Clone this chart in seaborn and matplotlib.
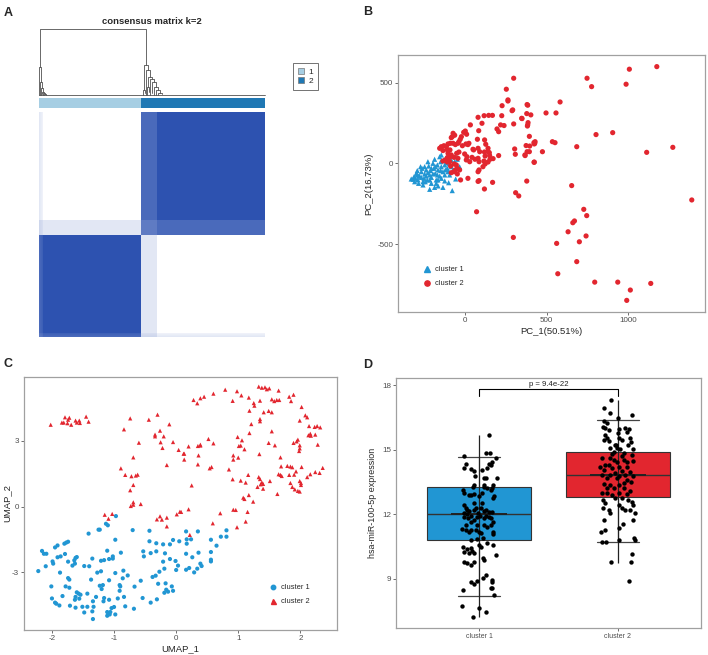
import numpy as np
import pandas as pd
import matplotlib
matplotlib.use("Agg")
import matplotlib.pyplot as plt
import seaborn as sns
from matplotlib.colors import LinearSegmentedColormap, ListedColormap
from matplotlib.lines import Line2D

# ---------------- data ----------------
# Panel A: consensus clustering (per-sample probability of belonging to cluster 2)
cluster1_p2 = [0.14, 0.12, 0.10, 0.08] + [0.0] * 98
cluster2_p2 = [0.86] * 16 + [1.0] * 108
cluster_labels = ["1", "2"]
# dendrogram links (icoord in leaf units, dcoord in heights)
dendro_icoord = [
    [1.3, 1.3, 107, 107],
    [0.3, 0.3, 2.3, 2.3], [1.3, 1.3, 3.3, 3.3], [2.3, 2.3, 4.3, 4.3],
    [3.3, 3.3, 5.3, 5.3], [4.3, 4.3, 6.3, 6.3], [5.3, 5.3, 7.3, 7.3],
    [105, 105, 109, 109], [107, 107, 111, 111], [109, 109, 113, 113],
    [111, 111, 115, 115], [113, 113, 117, 117], [115, 115, 119, 119],
    [117, 117, 121, 121], [119, 119, 123, 123], [104, 104, 106, 106],
    [108, 108, 110, 110], [0, 0, 226, 226],
]
dendro_dcoord = [
    [0.43, 1.0, 1.0, 0.45],
    [0.0, 0.43, 0.43, 0.20], [0.0, 0.20, 0.20, 0.10], [0.0, 0.10, 0.10, 0.05],
    [0.02, 0.05, 0.05, 0.03], [0.0, 0.03, 0.03, 0.015], [0.0, 0.015, 0.015, 0.005],
    [0.08, 0.45, 0.45, 0.38], [0.0, 0.38, 0.38, 0.28], [0.12, 0.28, 0.28, 0.24],
    [0.0, 0.24, 0.24, 0.19], [0.035, 0.19, 0.19, 0.12], [0.0, 0.12, 0.12, 0.08],
    [0.0, 0.08, 0.08, 0.035], [0.0, 0.035, 0.035, 0.01], [0.0, 0.08, 0.08, 0.03],
    [0.0, 0.12, 0.12, 0.04], [0.0, 0.0, 0.0, 0.0],
]

# Panel B: PCA
pca_cluster1 = [(-329,-97),(-312,-83),(-298,-62),(-288,-103),(-278,-79),(-267,-52),(-263,-31),(-251,-93),
    (-247,-66),(-237,-41),(-231,-103),(-222,-17),(-216,-72),(-210,-45),(-206,-87),(-196,0),(-190,-31),
    (-182,-62),(-176,-103),(-169,-10),(-165,-41),(-155,-79),(-149,10),(-145,-21),(-135,-52),(-129,21),
    (-124,-10),(-114,37),(-108,-31),(-98,0),(-84,21),(-63,10),(-47,25),(14,29),(-284,-124),(-257,-134),
    (-216,-161),(-186,-149),(-165,-140),(-135,-149),(-124,-109),(-78,-169),(-206,-124),(-308,-114),
    (-318,-99),(-292,-45),(-272,-21),(-227,10),(-186,25),(-155,41),(-145,52),(-165,-103),(-94,-72),
    (-73,-41),(-33,-21),(-284,-79),(-243,-114),(-176,-124),(-124,-72),(-104,-52),(-196,-66),(-257,-114),
    (-304,-93),(-267,-87),(-237,-79),(-227,-58),(-206,-31),(-182,-21),(-169,-72),(-149,-45),(-145,-93),
    (-120,-41),(-84,-21),(-114,4),(-216,-103),(-247,-21),(-292,-72),(-57,41),(-57,-97),(-100,-120)]
pca_cluster2 = [(263,386),(227,357),(384,360),(403,300),(80,285),(117,295),(145,297),(168,297),(225,295),
    (292,331),(349,277),(384,238),(298,244),(218,238),(239,234),(196,213),(206,196),(33,238),(104,248),
    (84,202),(2,200),(10,180),(-8,192),(-73,186),(-63,174),(-78,165),(-84,159),(-22,165),(-29,149),
    (-37,134),(76,149),(120,145),(127,118),(141,93),(141,72),(149,66),(151,48),(123,45),(119,70),(80,93),
    (90,72),(53,83),(49,87),(18,116),(24,124),(6,120),(-16,109),(-43,124),(-59,116),(-73,124),(-90,124),
    (-104,120),(-114,103),(-129,109),(-145,103),(-155,93),(-135,79),(-108,83),(-92,83),(-104,62),(-84,52),
    (-51,62),(-37,70),(-43,31),(-67,37),(-94,37),(-108,35),(-120,21),(-135,14),(-108,8),(-94,10),(-88,-17),
    (-67,-4),(-53,-10),(-47,-31),(-59,-41),(-67,-52),(-33,-41),(-84,-58),(-47,-66),(-27,-103),(18,-93),
    (80,-52),(86,-41),(86,10),(80,31),(61,25),(43,37),(29,10),(8,21),(12,41),(-2,58),(116,14),(110,-21),
    (123,-4),(141,8),(153,25),(172,29),(206,48),(304,89),(308,56),(368,48),(380,72),(394,72),(427,124),
    (429,134),(423,6),(378,-110),(169,-118),(119,-159),(86,-107),(80,-112),(310,-182),(329,-202),
    (298,527),(253,459),(263,393),(288,326),(380,364),(378,308),(347,279),(386,252),(382,231),(394,167),
    (374,110),(396,107),(422,128),(424,120),(367,52),(424,8),(474,72),(496,312),(557,312),(582,380),
    (535,134),(551,128),(684,103),(653,-138),(747,527),(775,475),(802,178),(904,190),(986,490),(1006,583),
    (1174,599),(1112,68),(1272,99),(1388,-227),(296,-459),(71,-300),(561,-496),(568,-684),(631,-424),
    (660,-368),(670,-357),(727,-285),(745,-324),(700,-486),(741,-450),(684,-609),(794,-736),(935,-736),
    (990,-849),(1012,-785),(1137,-744)]

# Panel C: UMAP
umap_cluster1 = [(-0.97,-0.43),(-1.13,-0.78),(-1.10,-0.85),(-1.25,-1.05),(-1.23,-1.05),(-1.41,-1.23),
    (-0.70,-1.07),(-0.43,-1.10),(-0.98,-1.51),(-1.77,-1.64),(-1.74,-1.60),(-1.80,-1.69),(-1.91,-1.77),
    (-1.95,-1.86),(-2.16,-2.02),(-2.13,-2.15),(-2.09,-2.15),(-1.79,-2.16),(-1.91,-2.31),(-1.86,-2.27),
    (-1.99,-2.50),(-1.98,-2.60),(-2.10,-2.72),(-2.22,-2.94),(-1.74,-2.51),(-1.64,-2.45),(-1.62,-2.34),
    (-1.60,-2.30),(-1.67,-2.69),(-1.63,-2.60),(-1.48,-2.71),(-1.40,-2.72),(-1.35,-2.37),(-1.21,-2.47),
    (-1.16,-2.44),(-1.08,-2.39),(-1.02,-2.37),(-1.02,-2.27),(-1.11,-2.01),(-0.89,-2.10),(-1.27,-3.01),
    (-1.21,-2.95),(-0.98,-3.03),(-0.85,-2.92),(-0.78,-3.14),(-0.86,-3.27),(-1.08,-3.36),(-1.37,-3.33),
    (-1.74,-3.26),(-1.72,-3.33),(-1.87,-3.01),(-2.01,-3.64),(-1.78,-3.64),(-1.72,-3.70),(-1.60,-3.91),
    (-1.57,-3.97),(-1.54,-4.02),(-1.43,-3.97),(-1.62,-4.12),(-1.56,-4.20),(-1.63,-4.25),(-1.23,-3.61),
    (-1.20,-3.76),(-1.18,-3.58),(-0.91,-3.58),(-0.90,-3.64),(-0.91,-3.84),(-0.84,-4.12),(-0.94,-4.19),
    (-1.08,-4.25),(-1.16,-4.17),(-1.17,-4.32),(-1.29,-4.12),(-1.34,-4.32),(-1.33,-4.57),(-1.43,-4.57),
    (-1.51,-4.57),(-1.62,-4.61),(-1.71,-4.52),(-1.83,-4.08),(-2.00,-4.19),(-1.95,-4.38),(-1.93,-4.43),
    (-1.88,-4.51),(-1.48,-4.83),(-1.35,-4.78),(-1.34,-5.13),(-1.11,-4.81),(-1.06,-4.81),(-1.07,-4.92),
    (-1.11,-4.98),(-1.04,-4.63),(-1.00,-4.58),(-0.98,-4.92),(-0.82,-4.55),(-0.68,-4.66),(-0.54,-4.17),
    (-0.41,-4.38),(-0.31,-4.23),(-0.19,-3.93),(-0.16,-3.79),(-0.07,-3.64),(-0.05,-3.84),(-0.13,-3.88),
    (-0.29,-3.52),(-0.17,-3.50),(-0.57,-3.38),(-0.67,-3.65),(-0.38,-3.21),(-0.33,-3.15),(-0.27,-2.97),
    (-0.21,-2.51),(-0.19,-2.83),(-0.10,-2.39),(-0.01,-2.48),(0.00,-2.89),(0.03,-2.69),(-0.05,-1.52),
    (-0.10,-1.72),(-0.21,-1.72),(-0.32,-1.67),(-0.43,-1.58),(-0.53,-2.04),(-0.52,-2.27),(-0.41,-2.12),
    (-0.32,-2.04),(-0.18,-2.13),(0.05,-1.58),(0.16,-1.13),(0.17,-1.69),(0.17,-1.49),(0.24,-1.49),
    (0.35,-1.13),(0.16,-2.15),(0.26,-2.31),(0.36,-2.10),(0.16,-2.88),(0.21,-2.80),(0.29,-3.00),
    (0.34,-2.83),(0.39,-2.60),(0.41,-2.71),(0.56,-1.51),(0.56,-2.07),(0.56,-2.42),(0.56,-2.50),
    (0.65,-1.78),(0.72,-1.37),(0.81,-1.08),(0.81,-1.37)]
umap_cluster2 = [(-2.02,3.74),(-1.84,3.84),(-1.81,3.84),(-1.79,4.08),(-1.74,3.97),(-1.72,4.06),(-1.75,3.81),
    (-1.69,3.74),(-1.62,3.93),(-1.60,3.84),(-1.56,3.93),(-1.55,3.82),(-1.45,4.11),(-1.41,3.88),(-0.74,4.03),
    (-0.84,3.53),(-0.44,3.97),(-0.30,4.20),(-0.11,3.76),(-0.26,3.47),(-0.34,3.29),(-0.34,3.21),(-0.20,3.21),
    (-0.25,2.94),(-0.22,2.68),(-0.05,2.95),(0.04,2.59),(0.12,2.42),(-0.60,2.92),(-0.69,2.25),(-0.15,1.90),
    (-0.89,1.75),(-0.82,1.45),(-0.72,1.39),(-0.65,1.42),(-0.62,1.46),(-0.69,0.99),(-0.74,0.75),(-0.57,0.12),
    (-0.73,0.03),(-0.69,0.09),(-0.69,0.20),(-1.15,-0.37),(-1.09,-0.55),(-1.03,-0.33),(-0.31,-0.58),
    (-0.26,-0.44),(-0.23,-0.59),(-0.15,-0.50),(-0.15,-0.90),(0.01,-0.35),(0.08,-0.24),(0.28,4.87),(0.34,4.72),
    (0.39,4.95),(0.45,5.02),(0.60,5.16),(0.79,5.34),(0.98,5.27),(0.91,4.83),(1.05,5.08),(1.17,4.98),
    (1.25,4.73),(1.26,4.61),(1.18,4.38),(1.35,4.84),(1.41,4.31),(1.49,4.37),(1.54,4.31),(1.33,5.48),
    (1.38,5.43),(1.43,5.45),(1.46,5.36),(1.50,5.40),(1.65,5.30),(1.54,4.90),(1.58,4.82),(1.62,4.87),
    (1.66,4.87),(1.82,5.02),(1.89,5.11),(1.85,4.82),(2.02,4.55),(2.08,4.17),(2.11,4.08),(1.99,3.93),
    (2.14,3.68),(2.23,3.64),(2.27,3.68),(2.32,3.62),(2.16,3.33),(2.13,3.26),(2.17,3.24),(2.24,3.29),
    (2.28,2.83),(1.96,3.06),(1.94,2.98),(1.99,2.80),(1.99,2.66),(1.98,2.54),(1.89,2.91),(1.35,4.00),
    (1.35,3.90),(1.21,3.77),(1.18,3.36),(1.54,3.44),(1.49,2.91),(1.59,2.80),(1.34,2.40),(1.68,2.25),
    (1.10,2.62),(1.06,3.03),(0.99,3.18),(1.01,2.77),(1.04,2.79),(0.92,2.34),(0.92,2.15),(1.00,2.24),
    (0.85,1.70),(1.16,1.45),(0.91,1.25),(1.04,1.19),(1.12,1.10),(1.33,1.35),(1.35,1.26),(1.38,1.11),
    (1.40,1.04),(1.36,1.02),(1.31,0.90),(1.40,0.82),(1.51,1.17),(1.63,0.58),(1.17,0.53),(1.08,0.41),
    (1.10,0.35),(1.24,0.23),(1.69,1.84),(1.65,1.48),(1.68,1.45),(1.70,1.40),(1.79,1.86),(1.84,1.83),
    (1.87,1.80),(1.90,1.46),(1.93,1.61),(1.82,1.45),(2.02,1.81),(1.84,1.08),(1.87,0.90),(1.91,0.79),
    (1.96,0.72),(1.99,1.17),(2.01,1.08),(2.01,0.99),(1.99,0.69),(2.11,1.35),(2.16,1.48),(2.24,1.58),
    (2.31,1.54),(2.36,1.77),(0.20,2.75),(0.35,2.77),(0.39,2.79),(0.39,2.83),(0.52,3.09),(0.60,2.89),
    (0.36,2.34),(0.13,2.42),(0.13,2.15),(0.35,1.93),(0.54,1.75),(0.57,1.81),(0.25,0.97),(0.92,-0.14),
    (0.96,-0.15),(0.71,-0.30),(1.15,-0.24),(0.59,-0.76),(0.98,-0.94),(1.12,-0.68),(0.20,-0.12),
    (0.06,-0.23),(0.22,-1.29)]

# Panel D: expression (jitter offset, value)
expr_cluster1 = [(0.074,15.69),(0.048,14.86),(0.079,14.86),(-0.110,14.71),(0.118,14.63),(0.094,14.41),
    (0.070,14.32),(0.082,14.26),(0.058,14.13),(-0.098,14.32),(-0.106,14.16),(-0.058,14.10),(-0.034,14.01),
    (-0.031,13.79),(0.022,14.06),(0.034,13.70),(0.046,13.67),(0.125,13.67),(-0.038,13.36),(-0.043,13.28),
    (0.038,13.36),(0.101,13.36),(0.094,13.23),(-0.118,13.11),(-0.106,12.97),(-0.074,12.89),(-0.058,12.89),
    (-0.034,12.95),(-0.002,12.86),(0.022,13.00),(0.034,13.26),(0.058,13.20),(0.082,13.11),(0.106,12.86),
    (0.101,12.74),(-0.110,12.43),(-0.094,12.27),(-0.086,12.19),(-0.106,12.04),(-0.074,12.12),(-0.038,12.18),
    (-0.026,12.27),(0.010,12.27),(0.034,12.15),(0.050,12.19),(0.070,12.08),(0.089,12.11),(-0.034,12.50),
    (0.022,12.50),(-0.110,11.88),(-0.079,11.80),(-0.062,11.65),(-0.038,11.73),(-0.010,12.04),(0.034,11.80),
    (0.082,11.80),(0.098,11.65),(-0.122,11.31),(-0.098,11.26),(-0.074,11.18),(-0.062,11.26),(-0.026,11.26),
    (-0.002,11.18),(0.010,11.11),(0.034,11.49),(0.082,11.49),(0.101,11.15),(0.101,11.06),(-0.062,10.80),
    (-0.014,10.84),(0.029,10.87),(0.058,10.64),(-0.115,10.48),(-0.086,10.38),(-0.062,10.41),(-0.050,10.28),
    (-0.038,10.17),(-0.110,10.25),(-0.074,10.17),(-0.002,10.56),(0.010,10.48),(0.101,10.56),(0.120,10.10),
    (0.029,9.94),(0.034,9.86),(-0.110,9.79),(-0.086,9.71),(-0.062,9.63),(-0.038,9.79),(0.024,9.01),
    (0.050,9.16),(-0.062,8.85),(-0.038,8.73),(-0.014,8.89),(0.089,8.93),(0.094,8.85),(0.082,8.57),
    (0.094,8.54),(-0.118,8.47),(0.106,8.23),(-0.125,7.72),(-0.002,7.64),(0.050,7.46),(-0.046,7.21),
    (-0.086,12.00),(-0.062,11.93),(-0.019,11.88),(0.005,11.93),(0.046,11.93),(0.070,11.87),(-0.098,11.49),
    (-0.014,11.49),(0.058,11.42)]
expr_cluster2 = [(-0.048,17.30),(-0.103,16.93),(-0.060,16.70),(0.103,16.59),(-0.002,16.46),(-0.103,16.31),
    (-0.079,16.23),(-0.108,16.07),(-0.091,16.00),(-0.067,15.92),(0.005,15.97),(0.053,16.00),(0.082,15.97),
    (0.065,15.84),(0.000,15.76),(-0.091,15.69),(-0.079,15.53),(-0.103,15.45),(-0.062,15.38),(0.012,15.53),
    (0.029,15.45),(0.089,15.53),(0.094,15.34),(0.077,15.22),(-0.019,15.22),(-0.007,15.07),(0.017,15.03),
    (-0.055,15.07),(0.113,15.03),(-0.031,14.91),(0.041,14.83),(0.101,14.75),(-0.055,14.60),(-0.115,14.60),
    (-0.031,14.52),(-0.007,14.44),(0.041,14.52),(0.065,14.44),(0.113,14.48),(-0.091,14.29),(-0.127,14.21),
    (-0.067,14.26),(0.005,14.21),(0.065,14.21),(-0.043,14.13),(-0.103,14.06),(0.029,14.01),(0.089,13.98),
    (-0.115,13.82),(-0.055,13.82),(-0.019,13.90),(0.053,13.82),(0.113,13.75),(-0.079,13.67),(-0.007,13.67),
    (0.065,13.59),(-0.103,13.39),(-0.055,13.36),(0.005,13.36),(0.041,13.43),(0.094,13.51),(-0.115,12.97),
    (-0.079,12.97),(-0.043,12.89),(0.005,12.97),(0.065,12.92),(0.077,12.66),(0.101,12.58),(0.113,12.43),
    (-0.108,12.66),(-0.091,12.50),(-0.110,12.27),(-0.067,12.19),(-0.055,12.04),(0.005,12.43),(0.029,12.27),
    (0.053,12.19),(0.089,12.19),(0.125,12.04),(-0.103,11.73),(0.036,11.52),(0.108,11.73),(0.010,11.37),
    (-0.120,11.18),(-0.091,11.26),(-0.113,10.72),(-0.084,10.72),(0.005,10.81),(0.118,10.90),(0.125,10.80),
    (0.101,10.13),(-0.046,9.79),(0.094,9.75),(0.079,8.89),(-0.012,15.22),(-0.043,14.79),(0.029,14.68),
    (0.012,13.75),(-0.031,13.20),(-0.079,13.20),(0.041,13.20),(0.089,13.05),(-0.019,12.74),(0.029,12.74)]
groups = ["cluster 1", "cluster 2"]
box_q1 = [10.80, 12.80]
box_med = [12.00, 13.82]
box_q3 = [13.24, 14.87]
whisker_lo = [8.19, 10.70]
whisker_hi = [14.65, 16.37]
range_lo = [7.21, 9.74]
range_hi = [15.67, 17.30]
p_text = "p = 9.4e-22"

# ---------------- style ----------------
sns.set_style("white")
plt.rcParams["font.family"] = ["Liberation Sans", "DejaVu Sans"]
plt.rcParams["axes.unicode_minus"] = False
BLUE = "#2196D3"
RED = "#E2262F"
SPINE = "#A0A0A0"
TICKC = "#4D4D4D"

W, H = 708, 655
fig = plt.figure(figsize=(W / 100, H / 100), dpi=100)
fig.patch.set_facecolor("white")


def axes_px(l, t, r, b):
    return fig.add_axes([l / W, 1 - b / H, (r - l) / W, (b - t) / H])


def style_axes(ax):
    for s in ax.spines.values():
        s.set_visible(True)
        s.set_color(SPINE)
        s.set_linewidth(0.9)
    ax.tick_params(bottom=True, left=True, length=2, width=0.6, color="#555555",
                   labelsize=5.8, labelcolor=TICKC, pad=1.5)
    ax.grid(False)


# ---------------- Panel A ----------------
p2 = np.array(cluster1_p2 + cluster2_p2)
consensus = np.outer(p2, p2) + np.outer(1 - p2, 1 - p2)
labels = np.array([0] * len(cluster1_p2) + [1] * len(cluster2_p2))

axM = axes_px(39, 112, 265, 337)
cmap = LinearSegmentedColormap.from_list("cons", ["#FFFFFF", "#2D52B0"])
sns.heatmap(consensus[::-1], ax=axM, cmap=cmap, vmin=0, vmax=1, cbar=False,
            xticklabels=False, yticklabels=False, rasterized=True)

axBar = axes_px(39, 98, 265, 108)
sns.heatmap(labels[np.newaxis, :], ax=axBar, cmap=ListedColormap(["#A6CEE3", "#1F78B4"]),
            vmin=0, vmax=1, cbar=False, xticklabels=False, yticklabels=False)

axDen = axes_px(39, 29, 265, 95)
for xs, ys in zip(dendro_icoord, dendro_dcoord):
    axDen.plot(xs, ys, color="#505050", lw=0.6, clip_on=False)
axDen.set_xlim(0, len(p2))
axDen.set_ylim(0, 1)
axDen.axis("off")

fig.text(152 / W, 1 - 22 / H, "consensus matrix k=2", ha="center", va="center",
         fontsize=6.8, fontweight="bold")
legA = fig.legend(
    handles=[Line2D([], [], marker="s", ls="", markerfacecolor="#A6CEE3", markeredgecolor="#777777",
                    markeredgewidth=0.5, markersize=4.5),
             Line2D([], [], marker="s", ls="", markerfacecolor="#1F78B4", markeredgecolor="#777777",
                    markeredgewidth=0.5, markersize=4.5)],
    labels=cluster_labels, loc="center", bbox_to_anchor=(305.5 / W, 1 - 76.5 / H),
    frameon=True, fancybox=False, fontsize=6, handlelength=0.8, handletextpad=0.5,
    labelspacing=0.15, borderpad=0.6)
legA.get_frame().set_edgecolor("#333333")
legA.get_frame().set_linewidth(0.6)

# ---------------- Panel B ----------------
dfB = pd.DataFrame(pca_cluster1 + pca_cluster2, columns=["PC1", "PC2"])
dfB["cluster"] = ["cluster 1"] * len(pca_cluster1) + ["cluster 2"] * len(pca_cluster2)
axB = axes_px(398, 55, 705, 312)
sns.scatterplot(data=dfB, x="PC1", y="PC2", hue="cluster", style="cluster",
                markers={"cluster 1": "^", "cluster 2": "o"},
                palette={"cluster 1": BLUE, "cluster 2": RED}, s=14, linewidth=0,
                ax=axB, legend=False)
axB.set_xlim(-410, 1469)
axB.set_ylim(-921, 671)
axB.set_xticks([0, 500, 1000])
axB.set_yticks([-500, 0, 500])
axB.set_xlabel("PC_1(50.51%)", fontsize=6.8, labelpad=2)
axB.set_ylabel("PC_2(16.73%)", fontsize=6.8, labelpad=3)
style_axes(axB)
axB.legend(handles=[Line2D([], [], marker="^", ls="", color=BLUE, markersize=4),
                    Line2D([], [], marker="o", ls="", color=RED, markersize=3.8)],
           labels=groups, loc="center left", bbox_to_anchor=(419 / W, 1 - 276.5 / H),
           bbox_transform=fig.transFigure, frameon=False, fontsize=5.4,
           handlelength=1.0, handletextpad=0.6, labelspacing=0.9, borderpad=0)

# ---------------- Panel C ----------------
dfC = pd.DataFrame(umap_cluster1 + umap_cluster2, columns=["UMAP_1", "UMAP_2"])
dfC["cluster"] = ["cluster 1"] * len(umap_cluster1) + ["cluster 2"] * len(umap_cluster2)
axC = axes_px(24, 377, 337, 630)
sns.scatterplot(data=dfC, x="UMAP_1", y="UMAP_2", hue="cluster", style="cluster",
                markers={"cluster 1": "o", "cluster 2": "^"},
                palette={"cluster 1": BLUE, "cluster 2": RED}, s=9, linewidth=0,
                ax=axC, legend=False)
axC.set_xlim(-2.45, 2.59)
axC.set_ylim(-5.63, 5.92)
axC.set_xticks([-2, -1, 0, 1, 2])
axC.set_yticks([-3, 0, 3])
axC.set_xlabel("UMAP_1", fontsize=6.8, labelpad=2)
axC.set_ylabel("UMAP_2", fontsize=6.8, labelpad=0.5)
style_axes(axC)
axC.legend(handles=[Line2D([], [], marker="o", ls="", color=BLUE, markersize=3.2),
                    Line2D([], [], marker="^", ls="", color=RED, markersize=3.6)],
           labels=groups, loc="center left", bbox_to_anchor=(265 / W, 1 - 594.7 / H),
           bbox_transform=fig.transFigure, frameon=False, fontsize=5.4,
           handlelength=1.0, handletextpad=0.6, labelspacing=0.9, borderpad=0)

# ---------------- Panel D ----------------
axD = axes_px(396, 378, 701, 628)
stats = []
for i in range(2):
    stats.append(dict(med=box_med[i], q1=box_q1[i], q3=box_q3[i], whislo=whisker_lo[i],
                      whishi=whisker_hi[i], fliers=[], label=groups[i]))
bp = axD.bxp(stats, positions=[0, 1], widths=0.75, patch_artist=True, showfliers=False,
             capwidths=0.30, manage_ticks=False,
             boxprops=dict(edgecolor="#333333", linewidth=0.8),
             medianprops=dict(color="#333333", linewidth=1.0),
             whiskerprops=dict(color="#333333", linewidth=0.8),
             capprops=dict(color="#444444", linewidth=0.9))
for patch, col in zip(bp["boxes"], [BLUE, RED]):
    patch.set_facecolor(col)
for i in range(2):
    axD.vlines(i, range_lo[i], range_hi[i], color="#222222", lw=0.9, zorder=3)
    axD.hlines(box_med[i], i - 0.2, i + 0.2, color="#222222", lw=1.4, zorder=3)

dfD = pd.DataFrame(
    [(0 + o, v) for o, v in expr_cluster1] + [(1 + o, v) for o, v in expr_cluster2],
    columns=["pos", "expr"])
sns.scatterplot(data=dfD, x="pos", y="expr", color="black", s=10, linewidth=0, ax=axD, zorder=4)
axD.plot([0, 0, 1, 1], [17.50, 17.80, 17.80, 17.50], color="black", lw=0.8)
axD.text(0.5, 17.86, p_text, ha="center", va="bottom", fontsize=5.6, color="#222222")
axD.set_xlim(-0.6, 1.6)
axD.set_ylim(6.70, 18.33)
axD.set_xticks([0, 1])
axD.set_xticklabels(groups)
axD.set_yticks([9, 12, 15, 18])
axD.set_xlabel("")
axD.set_ylabel("hsa-miR-100-5p expression", fontsize=6.4, labelpad=4)
style_axes(axD)
axD.tick_params(axis="x", labelsize=5.0)

# ---------------- panel letters ----------------
for letter, (x, y) in zip("ABCD", [(8.5, 13), (368, 12), (8.5, 364), (368, 365.5)]):
    fig.text(x / W, 1 - y / H, letter, ha="center", va="center", fontsize=9, fontweight="bold")

fig.savefig("out.png", dpi=100, facecolor="white")
